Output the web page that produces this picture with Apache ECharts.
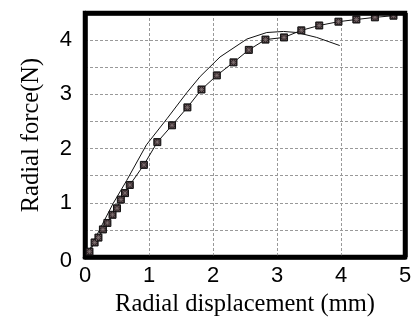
<!DOCTYPE html>
<html><head><meta charset="utf-8">
<script src="https://cdn.jsdelivr.net/npm/echarts@6/dist/echarts.min.js"></script>
<style>html,body{margin:0;padding:0;background:#fff}#c{width:418px;height:322px}</style>
</head><body><div id="c"></div>
<script>
// Series with markers (measured)
const markX = [0.07,0.15,0.21,0.28,0.35,0.43,0.50,0.56,0.625,0.70,0.92,1.13,1.36,1.60,1.82,2.06,2.32,2.56,2.82,3.11,3.38,3.66,3.96,4.24,4.53,4.82];
const markY = [0.10,0.27,0.36,0.51,0.63,0.78,0.90,1.06,1.18,1.33,1.70,2.12,2.43,2.76,3.09,3.35,3.59,3.82,4.01,4.05,4.18,4.27,4.34,4.38,4.42,4.45];
// Plain line series
const lineX = [0.04,0.23,0.44,0.65,0.96,1.28,1.59,1.80,2.11,2.53,2.84,3.10,3.31,3.62,3.98];
const lineY = [0.06,0.51,0.99,1.41,2.07,2.55,3.03,3.33,3.69,4.02,4.14,4.16,4.14,4.05,3.90];
const xTicks = [0,1,2,3,4,5];
const yTicks = [0,1,2,3,4];
const xMax = 5, yMax = 4.5;

const chart = echarts.init(document.getElementById('c'));
const sans = 'Liberation Sans';
const serif = 'Liberation Serif';
const frame = {show:true,onZero:false,lineStyle:{color:'#000',width:4.5}};
const markData = markX.map((x,i)=>[x,markY[i]]);
chart.setOption({
  animation:false,
  grid:{left:85,right:13,top:13,bottom:60,show:true,borderColor:'#000',borderWidth:4.5,backgroundColor:'transparent'},
  xAxis:[{type:'value',min:0,max:xMax,interval:1,
    name:'Radial displacement (mm)',nameLocation:'middle',nameGap:34,
    nameTextStyle:{fontFamily:serif,fontSize:24.5,color:'#000'},
    axisLine:frame,axisTick:{show:false},
    axisLabel:{fontFamily:sans,fontSize:22,color:'#000',margin:8,
      formatter:v=>xTicks.includes(v)?String(v):''},
    splitLine:{show:true,lineStyle:{color:'#999',type:[3,2],width:1}}}],
  yAxis:[{type:'value',min:0,max:yMax,interval:0.5,
    name:'Radial force(N)',nameLocation:'middle',nameGap:41,
    nameTextStyle:{fontFamily:serif,fontSize:24.5,color:'#000'},
    axisLine:frame,axisTick:{show:false},
    axisLabel:{fontFamily:sans,fontSize:22,color:'#000',margin:13,
      formatter:v=>yTicks.includes(v)?(v===0?'{z|0}':String(v)):'',
      rich:{z:{fontFamily:sans,fontSize:22,color:'#000',padding:[8,0,0,0]}}},
    splitLine:{show:true,lineStyle:{color:'#999',type:[3,2],width:1}}}],
  series:[
    {type:'line',data:lineX.map((x,i)=>[x,lineY[i]]),showSymbol:false,symbol:'none',
     lineStyle:{color:'#111',width:1},z:2,
     markLine:{silent:true,symbol:'none',label:{show:false},animation:false,
       lineStyle:{color:'#000',width:4.5,type:'solid'},
       data:[{xAxis:xMax},{yAxis:yMax}]}},
    {type:'line',data:markData,symbol:'rect',symbolSize:7,
     itemStyle:{color:'#33272a',borderColor:'#111',borderWidth:1},
     lineStyle:{color:'#111',width:1},z:3},
    {type:'scatter',data:markData,symbol:'path://M0,0L10,10M10,0L0,10M5,0L5,10M0,5L10,5',symbolSize:5,
     itemStyle:{color:'none',borderColor:'#8a7d7d',borderWidth:0.8},z:4,silent:true}
  ]
});
</script></body></html>
